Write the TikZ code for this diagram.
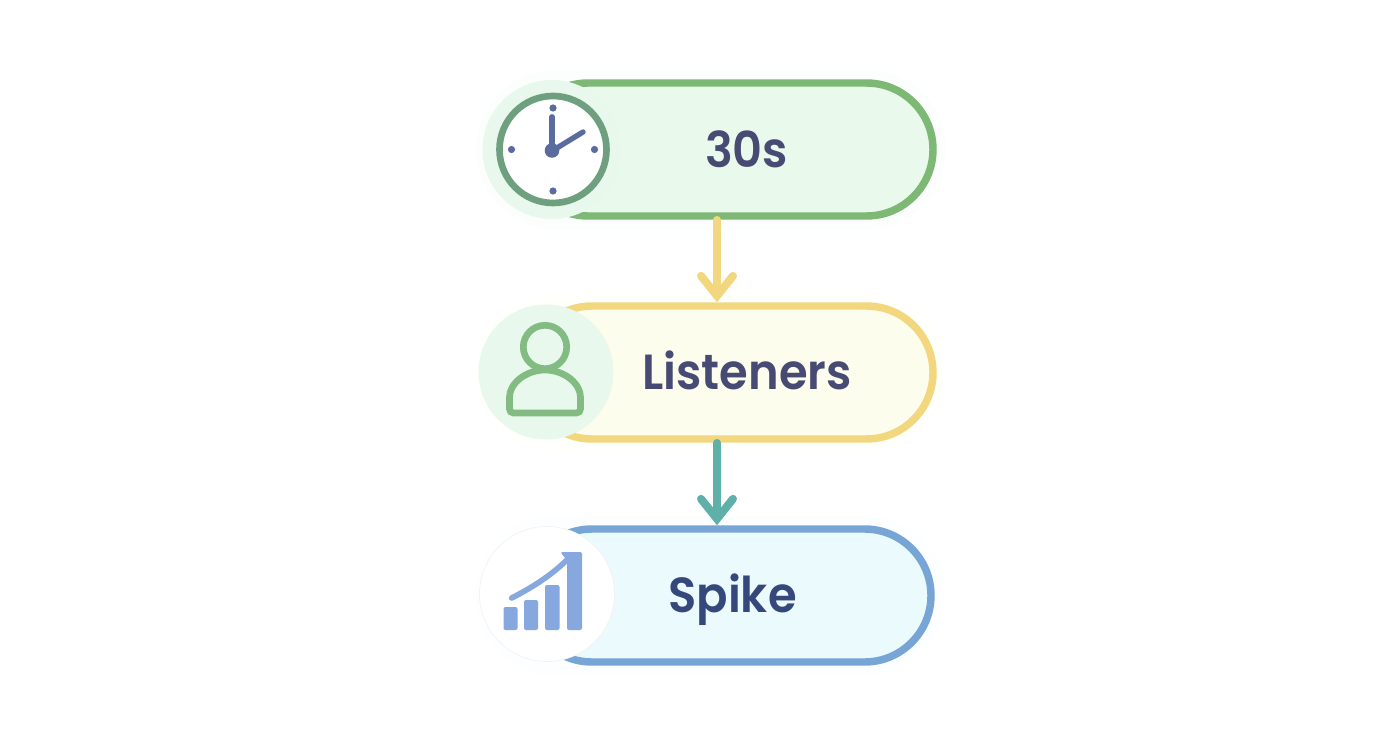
\documentclass[tikz,border=0pt]{standalone}
\usepackage{fontspec}
\setmainfont{Poppins}
\newfontfamily\labelfont[FakeStretch=0.94]{Poppins SemiBold}
\usetikzlibrary{arrows.meta,positioning}
\definecolor{gstroke}{HTML}{7DB874}
\definecolor{gfill}{HTML}{E9F9EB}
\definecolor{ystroke}{HTML}{F3D77F}
\definecolor{yfill}{HTML}{FDFDEE}
\definecolor{bstroke}{HTML}{76A5D6}
\definecolor{bfill}{HTML}{EBFAFC}
\definecolor{teal}{HTML}{5FB0A8}
\definecolor{disc}{HTML}{E8F8EC}
\definecolor{clockring}{HTML}{6E9F7F}
\definecolor{hand}{HTML}{5A6BA0}
\definecolor{ink}{HTML}{474A72}
\definecolor{inkb}{HTML}{35487C}
\definecolor{person}{HTML}{82BC82}
\definecolor{bars}{HTML}{86A8DE}
\tikzset{
 pill/.style={rounded corners=66.5*0.75pt,line width=5.6pt,minimum height=133*0.75pt,inner sep=0pt},
 halo/.style={rounded corners=80*0.75pt,minimum height=160*0.75pt,inner sep=0pt},
 iconDisc/.style={circle,inner sep=0pt,minimum size=135*0.75pt},
 label/.style={font=\labelfont\fontsize{37}{40}\selectfont,anchor=base},
 conn/.style={line width=5.6pt,line cap=round,-{Straight Barb[length=15pt,width=24pt,line width=6pt,line cap=round,line join=miter]}},
 bar/.style={fill=bars,rounded corners=1.5pt},
}
\begin{document}
\begin{tikzpicture}[x=0.75pt,y=-0.75pt]
\useasboundingbox (0,0) rectangle (1392,752);
% soft halos
\node[halo,fill=gfill!12,minimum width=470*0.75pt] (h1) at (711,149.5) {};
\node[halo,fill=yfill!15,minimum width=470*0.75pt] (h2) at (711,372.5) {};
\node[halo,fill=bfill!12,minimum width=470*0.75pt] (h3) at (710,595.5) {};
% pills
\node[pill,draw=gstroke,fill=gfill,minimum width=411.5*0.75pt] (p1) at (727.25,149.5) {};
\node[pill,draw=ystroke,fill=yfill,minimum width=407.5*0.75pt] (p2) at (729.25,372.5) {};
\node[pill,draw=bstroke,fill=bfill,minimum width=405.5*0.75pt] (p3) at (728.25,595.5) {};
% connectors
\coordinate (a1) at (p1.south -| 717,0);
\coordinate (a2) at (p2.north -| 717,0);
\coordinate (a3) at (p2.south -| 717,0);
\coordinate (a4) at (p3.north -| 717,0);
\draw[conn,ystroke] (a1) -- (a2);
\draw[conn,teal] (a3) -- (a4);
% discs
\node[iconDisc,fill=disc,minimum size=139*0.75pt] (d1) at (552,149.5) {};
\node[iconDisc,fill=disc] (d2) at (546,372) {};
\node[iconDisc,fill=white,draw=black!5,line width=0.5pt] (d3) at (547,594) {};
% clock
\node[circle,inner sep=0pt,minimum size=107*0.75pt,draw=clockring,fill=white,line width=5pt] (clock) at (553,149.5) {};
\foreach \dx/\dy in {0/-41.5,0/41.5,-41.5/0,41.5/0}
  \fill[hand] (553+\dx,149.5+\dy) circle[radius=3.6];
\draw[hand,line width=4.4pt,line cap=round] (552,151) -- (552,117);
\draw[hand,line width=4pt,line cap=round] (552,151) -- (583,132);
\fill[hand] (552,150.5) circle[radius=7.3];
% person
\draw[person,line width=5pt] (545,347) circle[radius=21.7];
\draw[person,line width=5pt,rounded corners=3pt] (509.5,413) -- (509.5,401) arc[start angle=180,end angle=360,x radius=35.5,y radius=31] -- (580.5,413) -- cycle;
% chart
\fill[bar] (503.5,607) rectangle (517.5,630);
\fill[bar] (524,600) rectangle (538,630);
\fill[bar] (545,585) rectangle (559.5,630);
\fill[bar] (567,552) rectangle (582,630);
\fill[bar,rounded corners=2pt] (560,552) -- (572,552) -- (572,566) -- cycle;
\draw[bars,line width=4.2pt,line cap=round] (511.7,598) .. controls (535,586) and (553,574) .. (570,557);
% labels
\node[label,text=ink] (t1) at (746.5,168) {30s};
\node[label,text=ink] (t2) at (747,389) {Listeners};
\node[label,text=inkb] (t3) at (732.5,612) {Spike};
\end{tikzpicture}
\end{document}
